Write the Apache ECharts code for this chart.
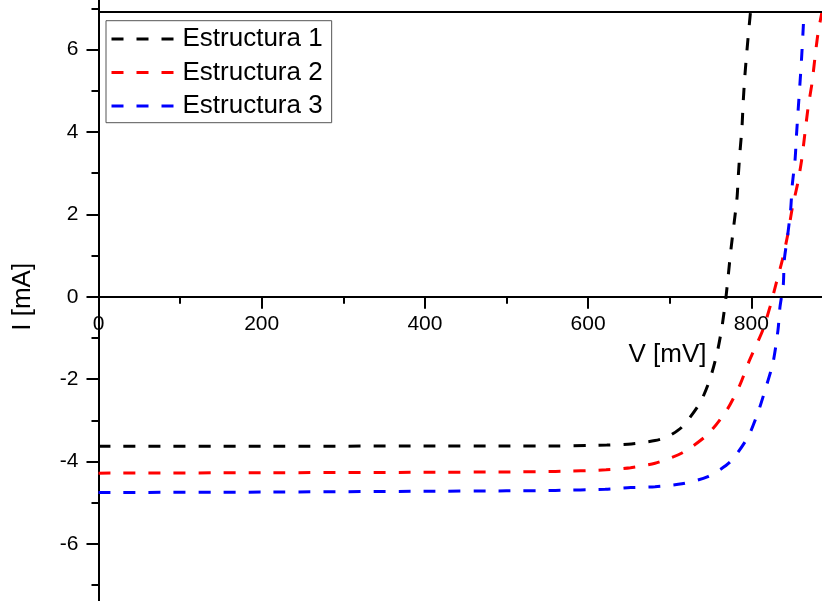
<!DOCTYPE html>
<html><head><meta charset="utf-8">
<script src="https://cdn.jsdelivr.net/npm/echarts@6/dist/echarts.min.js"></script>
<style>html,body{margin:0;padding:0;background:#fff}#c{width:822px;height:601px}</style>
</head><body><div id="c"></div>
<script>
const seriesNames = ['Estructura 1', 'Estructura 2', 'Estructura 3'];
const seriesColors = ['#000000', '#ff0000', '#0000ff'];

// Estructura 1 (V in mV, I in mA)
const V1 = [0, 200, 400, 500, 560, 600, 623, 653, 682, 697, 715, 737, 749, 758, 764, 769, 775, 782.5, 784, 786, 788.6, 790, 792, 794.5, 797.5, 799];
const I1 = [-3.63, -3.63, -3.62, -3.62, -3.62, -3.61, -3.60, -3.57, -3.49, -3.40, -3.16, -2.58, -2.02, -1.37, -0.74, 0, 1.14, 2.40, 2.91, 3.49, 4.12, 4.70, 5.33, 5.94, 6.60, 6.91];

// Estructura 2
const V2 = [0, 200, 400, 500, 560, 622, 652, 682, 715, 746, 770, 786, 798, 814, 823, 830, 838, 844.6, 850.2, 856.8, 861.7, 865.8, 869.5, 874.4, 878.1, 881.8, 886.6];
const I2 = [-4.28, -4.27, -4.26, -4.25, -4.24, -4.20, -4.15, -4.04, -3.79, -3.35, -2.75, -2.14, -1.53, -0.81, -0.24, 0.29, 0.89, 1.50, 2.15, 2.75, 3.32, 3.98, 4.58, 5.19, 5.82, 6.40, 6.91];

// Estructura 3
const V3 = [0, 200, 400, 500, 560, 621, 652, 682, 715, 746, 774, 796, 808, 817, 826.6, 832.7, 835.2, 839.2, 840.4, 844.6, 848.2, 850.2, 853.6, 855.4, 857.4, 859.5, 861.5, 863.3, 864.6];
const I3 = [-4.75, -4.74, -4.72, -4.71, -4.70, -4.67, -4.63, -4.61, -4.54, -4.37, -4.01, -3.40, -2.82, -2.26, -1.60, -0.81, -0.24, 0.29, 0.89, 1.50, 2.11, 2.71, 3.32, 3.93, 4.53, 5.14, 5.75, 6.40, 6.91];

const xTickLabels = [0, 200, 400, 600, 800];
const yTickLabels = [-6, -4, -2, 0, 2, 4, 6];
const topFrameValue = 6.91;

const FONT = "'Liberation Sans', Arial, sans-serif";
const pairs = (xs, ys) => xs.map((x, i) => [x, ys[i]]);
const allV = [V1, V2, V3];
const allI = [I1, I2, I3];

const chart = echarts.init(document.getElementById('c'), null, {renderer: 'canvas'});

const series = seriesNames.map((name, k) => ({
  name: name,
  type: 'line',
  data: pairs(allV[k], allI[k]),
  showSymbol: false,
  symbol: 'none',
  smooth: 0.25,
  color: seriesColors[k],
  itemStyle: {color: seriesColors[k]},
  lineStyle: {color: seriesColors[k], width: 3, type: [12, 13], cap: 'butt'},
  z: 3
}));
series[0].markLine = {
  silent: true,
  symbol: ['none', 'none'],
  label: {show: false},
  lineStyle: {color: '#000', width: 2, type: 'solid'},
  emphasis: {disabled: true},
  data: [{yAxis: topFrameValue}]
};

chart.setOption({
  animation: false,
  backgroundColor: '#fff',
  textStyle: {fontFamily: FONT},
  grid: {left: 98.5, right: -92.5, top: -32.8, bottom: -25.4, containLabel: false, outerBoundsMode: 'none'},
  legend: {
    show: true,
    orient: 'vertical',
    left: 106, top: 20.7, right: 'auto', bottom: 'auto',
    padding: [4.3, 9, 2.7, 4],
    itemWidth: 63, itemHeight: 14, itemGap: 5.5,
    borderColor: '#555', borderWidth: 1,
    backgroundColor: '#fff',
    itemStyle: {color: 'rgba(0,0,0,0)', borderWidth: 0, opacity: 0},
    lineStyle: {width: 3},
    textStyle: {fontSize: 26, color: '#000', lineHeight: 28, fontFamily: FONT, padding: [0, 0, 0, 3]},
    data: seriesNames
  },
  xAxis: {
    type: 'value', min: 0, max: 1000, interval: 200,
    position: 'bottom', offset: -329.6,
    name: 'V [mV]', nameLocation: 'middle', nameGap: 21,
    nameTextStyle: {fontSize: 26, color: '#000', fontFamily: FONT, lineHeight: 30, padding: [0, 0, 0, 322]},
    axisLine: {onZero: false, lineStyle: {color: '#000', width: 2}},
    axisTick: {show: true, length: 12, lineStyle: {color: '#000', width: 2}},
    minorTick: {show: true, splitNumber: 2, length: 7, lineStyle: {color: '#000', width: 2}},
    splitLine: {show: false},
    axisLabel: {fontSize: 21, color: '#000', margin: 17, fontFamily: FONT,
      formatter: v => xTickLabels.includes(v) ? String(v) : ''}
  },
  yAxis: {
    type: 'value', min: -8, max: 8, interval: 2,
    name: 'I [mA]', nameLocation: 'middle', nameGap: 61, nameRotate: 90,
    nameTextStyle: {fontSize: 26, color: '#000', fontFamily: FONT, lineHeight: 30},
    axisLine: {onZero: false, lineStyle: {color: '#000', width: 2}},
    axisTick: {show: true, length: 12, lineStyle: {color: '#000', width: 2}},
    minorTick: {show: true, splitNumber: 2, length: 7, lineStyle: {color: '#000', width: 2}},
    splitLine: {show: false},
    axisLabel: {fontSize: 21, color: '#000', margin: 20, fontFamily: FONT,
      formatter: v => yTickLabels.includes(v) ? String(v) : ''}
  },
  series: series
});
</script></body></html>
